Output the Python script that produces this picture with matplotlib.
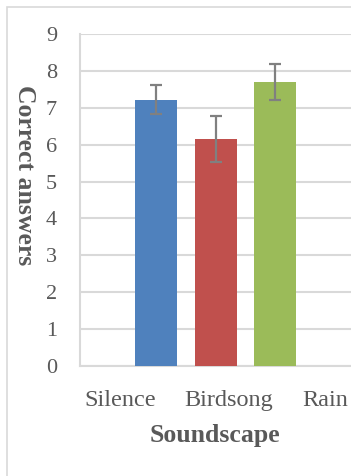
import matplotlib
matplotlib.use("Agg")
import matplotlib.pyplot as plt
from matplotlib.patches import Rectangle

# data
soundscapes = ["Silence", "Birdsong", "Rain"]
correct = [7.22, 6.15, 7.70]
errors = [0.40, 0.62, 0.50]
bar_colors = ["#4F81BD", "#C0504D", "#9BBB59"]

W, H = 351, 476
plt.rcParams['font.family'] = ['Liberation Serif', 'DejaVu Serif']
fig = plt.figure(figsize=(W / 100, H / 100), dpi=100)

# outer chart frame (runs off right and bottom edges)
fig.patches.append(Rectangle((7 / W, -0.1), 1.2, 1 - 7 / H + 0.1,
                             transform=fig.transFigure, fill=False,
                             edgecolor="#D9D9D9", linewidth=1.2))

# plot area: left at x=80, top (9) at y=34, bottom (0) at y=366
left, right = 80 / W, 1.0
bottom, top = 1 - 366 / H, 1 - 34 / H
ax = fig.add_axes([left, bottom, right - left, top - bottom])

# bar centres at px 156, 216, 275 -> 59.5 px per unit, axis starts at px 80
px_per = 59.5
x0 = (156 - 80) / px_per
xs = [x0 + i for i in range(len(correct))]
ax.bar(xs, correct, width=42 / px_per, color=bar_colors, zorder=3)
ax.errorbar(xs, correct, yerr=errors, fmt="none", ecolor="#808080",
            elinewidth=1.6, capsize=4.5, capthick=1.6, zorder=4)

ax.set_xlim(0, (W - 80) / px_per)
ax.set_ylim(0, 9)
ax.set_yticks(range(10))
ax.yaxis.grid(True, color="#D9D9D9", linewidth=1.5, zorder=0)
ax.tick_params(axis="y", length=0, pad=16.5, labelsize=16, labelcolor="#595959")

# category labels (positions)
label_px = [120, 229, 325]
ax.set_xticks([(p - 80) / px_per for p in label_px])
ax.set_xticklabels(soundscapes)
ax.tick_params(axis="x", length=0, pad=17.5, labelsize=17.5, labelcolor="#595959")

for s in ["top", "right"]:
    ax.spines[s].set_visible(False)
for s in ["left", "bottom"]:
    ax.spines[s].set_color("#D9D9D9")
    ax.spines[s].set_linewidth(1.5)

fig.text(24 / W, 1 - 175 / H, "Correct answers", rotation=270,
         ha="center", va="center", fontsize=18.5, fontweight="bold", color="#595959")
fig.text(215 / W, 1 - 442 / H, "Soundscape", ha="center", va="baseline",
         fontsize=18.5, fontweight="bold", color="#595959")

fig.savefig("out.png", dpi=100)
